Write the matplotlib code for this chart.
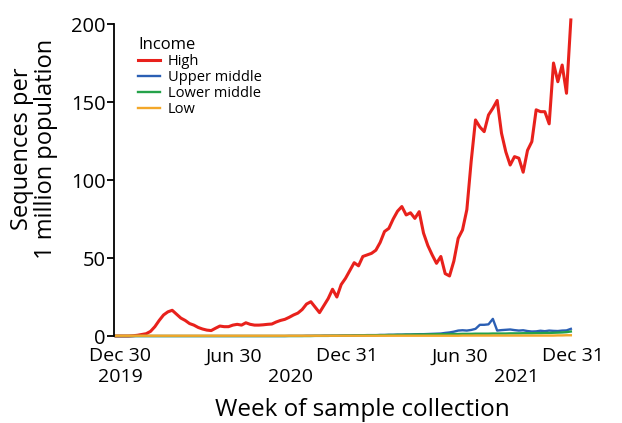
import numpy as np
import pandas as pd
import matplotlib
matplotlib.use("Agg")
import matplotlib.pyplot as plt

plt.rcParams['font.family'] = ['Open Sans', 'DejaVu Sans']

# weekly sample-collection dates
weeks = pd.date_range("2019-12-23", periods=106, freq="7D")

high = [0, 0, 0, 0, 0.2, 0.5, 1, 1.5, 3, 6,
        10, 13.5, 15.5, 16.5, 14, 11.5, 10, 8, 7, 5.5,
        4.5, 3.8, 3.5, 5, 6.4, 6, 6, 7, 7.5, 7,
        8.5, 7.5, 7, 7, 7.2, 7.5, 7.7, 9, 10, 10.7,
        12, 13.5, 14.7, 17, 20.5, 22, 18.5, 15, 19.5, 24,
        30, 25, 33, 37, 42, 47, 45, 51, 52, 53,
        55, 60, 67, 69, 75, 80, 83, 77.6, 79, 75.4,
        79.7, 66, 58, 52, 46.6, 51, 40, 38.5, 48, 62.6,
        68, 81, 112, 138.5, 134, 131, 141.7, 146, 151, 130,
        118, 109.6, 115, 114, 105, 119, 124.6, 145, 143.8, 143.8,
        136, 175, 163, 173.7, 155.6, 202.6]

upper_middle = [0, 0, 0, 0, 0, 0, 0, 0, 0, 0,
                0, 0, 0, 0, 0, 0, 0, 0, 0, 0,
                0, 0, 0, 0, 0, 0, 0, 0, 0, 0,
                0, 0, 0, 0, 0, 0, 0, 0, 0, 0,
                0.1, 0.1, 0.1, 0.1, 0.2, 0.2, 0.2, 0.2, 0.3, 0.3,
                0.3, 0.3, 0.4, 0.4, 0.4, 0.5, 0.5, 0.5, 0.6, 0.6,
                0.6, 0.7, 0.7, 0.8, 0.8, 0.9, 0.9, 1.0, 1.0, 1.1,
                1.2, 1.2, 1.3, 1.4, 1.5, 1.6, 2.0, 2.3, 2.8, 3.5,
                3.7, 3.5, 3.9, 4.6, 7.2, 7.2, 7.5, 11, 3.5, 3.8,
                4.0, 4.2, 3.8, 3.5, 3.7, 3.2, 2.9, 3.0, 3.4, 3.1,
                3.5, 3.3, 3.2, 3.5, 3.6, 4.6]

lower_middle = [0, 0, 0, 0, 0, 0, 0, 0, 0, 0,
                0, 0, 0, 0, 0, 0, 0, 0, 0, 0,
                0, 0, 0, 0, 0, 0, 0, 0, 0, 0,
                0, 0, 0, 0, 0, 0, 0, 0, 0, 0,
                0, 0, 0, 0, 0, 0, 0.1, 0.1, 0.1, 0.1,
                0.2, 0.2, 0.2, 0.3, 0.3, 0.3, 0.4, 0.4, 0.5, 0.5,
                0.5, 0.6, 0.6, 0.7, 0.7, 0.8, 0.8, 0.9, 0.9, 1.0,
                1.0, 1.0, 1.1, 1.1, 1.2, 1.2, 1.2, 1.3, 1.3, 1.3,
                1.4, 1.4, 1.4, 1.5, 1.5, 1.5, 1.5, 1.6, 1.6, 1.6,
                1.6, 1.7, 1.7, 1.7, 1.8, 1.8, 1.8, 1.9, 1.9, 2.0,
                2.0, 2.1, 2.2, 2.3, 2.5, 2.9]

low = [0.2] * 80 + [0.3] * 20 + [0.3, 0.3, 0.4, 0.4, 0.5, 0.5]

series = [
    ("High", high, "#e8211c", 2.2),
    ("Upper middle", upper_middle, "#2b5fb4", 1.7),
    ("Lower middle", lower_middle, "#25a24a", 1.7),
    ("Low", low, "#f3a72a", 1.7),
]

tick_dates = pd.to_datetime(["2019-12-30", "2020-06-30", "2020-12-31",
                             "2021-06-30", "2021-12-31"])
tick_labels = ["Dec 30\n2019", "Jun 30", "Dec 31", "Jun 30", "Dec 31"]
year_dates = pd.to_datetime(["2020-09-30", "2021-09-30"])
year_labels = ["\n2020", "\n2021"]

fig = plt.figure(figsize=(6.22, 4.23), dpi=100)
ax = fig.add_axes([0.1833, 0.2019, 0.7434, 0.7598])

for name, vals, col, lw in series:
    ax.plot(weeks, vals, color=col, lw=lw, label=name, clip_on=False,
            solid_joinstyle="round")

ax.set_ylim(-1, 205)
ax.set_xlim(pd.Timestamp("2019-12-20"), pd.Timestamp("2022-01-05"))
ax.set_yticks([0, 50, 100, 150, 200])
ax.spines["left"].set_bounds(0, 200)
ax.spines["left"].set_linewidth(1.3)
for s in ["top", "right", "bottom"]:
    ax.spines[s].set_visible(False)

ax.set_xticks(tick_dates)
ax.set_xticklabels(tick_labels)
ax.set_xticks(year_dates, minor=True)
ax.set_xticklabels(year_labels, minor=True)
ax.tick_params(axis="x", which="both", length=0, pad=7, labelsize=14)
ax.tick_params(axis="y", length=5, width=1.3, labelsize=14.5, pad=1)

fig.text(0.054, 0.648, "Sequences per\n1 million population", rotation=90,
         ha="center", va="center", fontsize=17, linespacing=1.0)
fig.text(0.582, 0.031, "Week of sample collection", ha="center", va="center",
         fontsize=17.5)

leg = ax.legend(title="Income", loc="upper left", bbox_to_anchor=(0.052, 0.936),
                frameon=False, fontsize=10.5, title_fontsize=12,
                handlelength=1.5, handletextpad=0.55, labelspacing=0.08,
                borderaxespad=0, borderpad=0)
leg._legend_box.align = "left"

fig.savefig("out.png", dpi=100)
